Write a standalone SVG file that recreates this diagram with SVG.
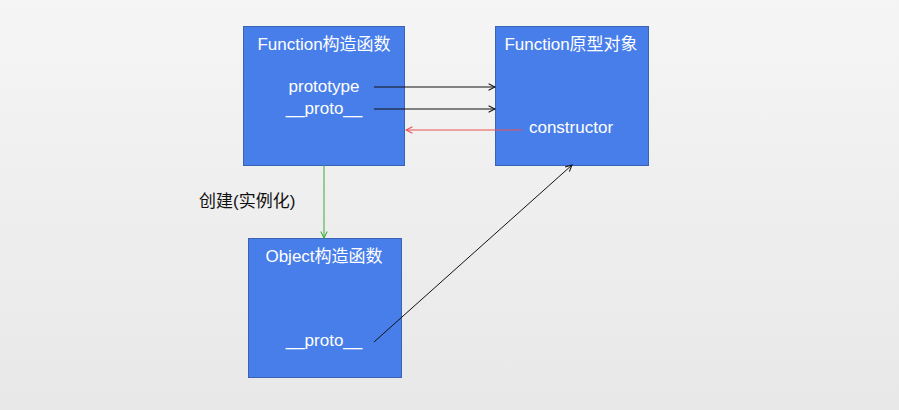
<svg xmlns="http://www.w3.org/2000/svg" width="899" height="410" viewBox="0 0 899 410">
<defs>
<linearGradient id="bg" x1="0" y1="0" x2="0" y2="1">
<stop offset="0" stop-color="#f5f5f5"/>
<stop offset="1" stop-color="#e8e8e8"/>
</linearGradient>
<marker id="ab" viewBox="0 0 10 10" refX="9" refY="5" markerWidth="8" markerHeight="8" markerUnits="userSpaceOnUse" orient="auto"><path d="M1,1 L9,5 L1,9" fill="none" stroke="#111" stroke-width="1.3"/></marker>
<marker id="ar" viewBox="0 0 10 10" refX="9" refY="5" markerWidth="8" markerHeight="8" markerUnits="userSpaceOnUse" orient="auto"><path d="M1,1 L9,5 L1,9" fill="none" stroke="#e8504e" stroke-width="1.3"/></marker>
<marker id="ag" viewBox="0 0 10 10" refX="9" refY="5" markerWidth="8" markerHeight="8" markerUnits="userSpaceOnUse" orient="auto"><path d="M1,1 L9,5 L1,9" fill="none" stroke="#3fa83f" stroke-width="1.3"/></marker>
</defs>
<style>
.box{fill:#487eea;stroke:#3a62b5;stroke-width:1}
.t{font-family:"Liberation Sans","Noto Sans CJK SC",sans-serif;font-size:17px;fill:#fff;text-anchor:middle}
.lbl{font-family:"Liberation Sans","Noto Sans CJK SC",sans-serif;font-size:17px;fill:#111}
</style>
<rect width="899" height="410" fill="url(#bg)"/>
<g id="function-ctor">
<rect class="box" x="243.5" y="26.5" width="161" height="139"/>
<text class="t" x="324" y="50">Function构造函数</text>
<text class="t" x="324" y="92">prototype</text>
<text class="t" x="324" y="114">__proto__</text>
</g>
<g id="function-proto">
<rect class="box" x="495.5" y="26.5" width="153" height="139"/>
<text class="t" x="571" y="50">Function原型对象</text>
<text class="t" x="571" y="133">constructor</text>
</g>
<g id="object-ctor">
<rect class="box" x="248.5" y="238.5" width="153" height="139"/>
<text class="t" x="324" y="262">Object构造函数</text>
<text class="t" x="324" y="346">__proto__</text>
</g>
<g id="connectors" fill="none" stroke-width="1">
<line x1="374" y1="87" x2="495" y2="87" stroke="#111" marker-end="url(#ab)"/>
<line x1="374" y1="109" x2="495" y2="109" stroke="#111" marker-end="url(#ab)"/>
<line x1="522" y1="130" x2="406" y2="130" stroke="#e8504e" marker-end="url(#ar)"/>
<line x1="324" y1="165" x2="324" y2="238" stroke="#3fa83f" marker-end="url(#ag)"/>
<line x1="374" y1="342" x2="572" y2="165" stroke="#111" marker-end="url(#ab)"/>
<text class="lbl" x="199" y="207" stroke="none">创建(实例化)</text>
</g>
</svg>
